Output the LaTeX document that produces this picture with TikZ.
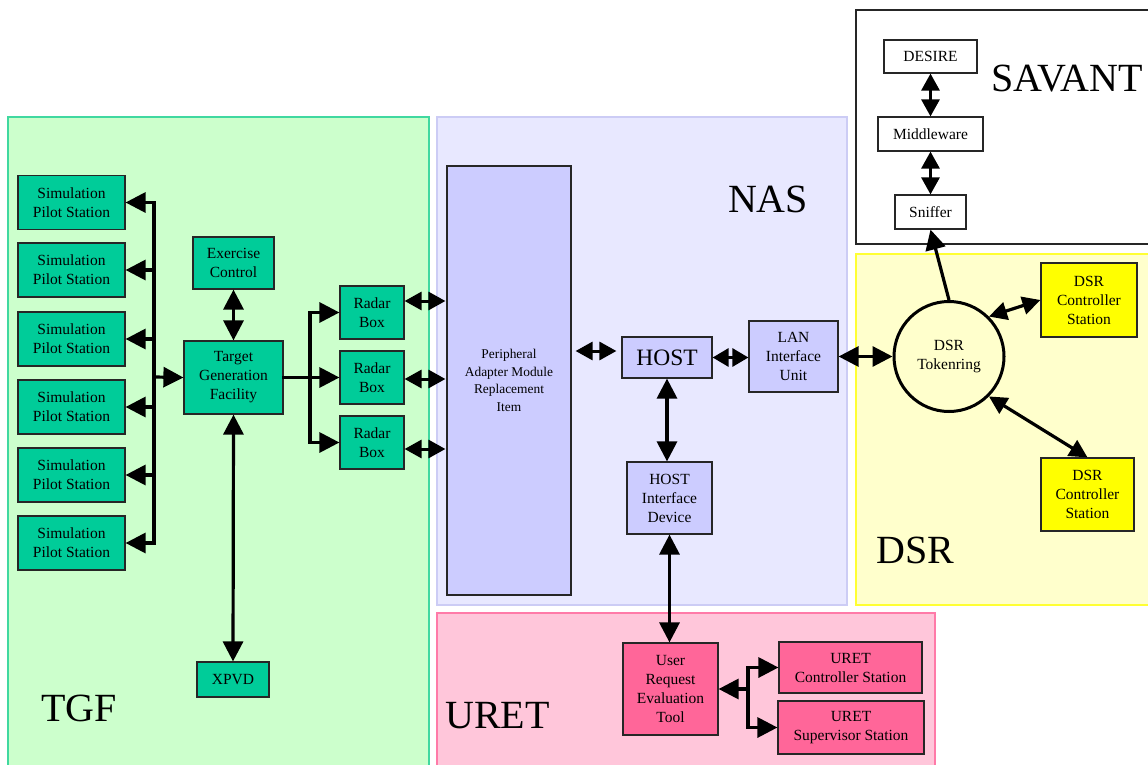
\documentclass[tikz,border=0pt]{standalone}
\usepackage{fontspec}
\setmainfont{Liberation Serif}
\usetikzlibrary{arrows.meta}
\definecolor{tgfbg}{HTML}{CCFFCC}
\definecolor{tgfline}{HTML}{40D8A0}
\definecolor{tgfnode}{HTML}{00CC99}
\definecolor{nasbg}{HTML}{E8E8FF}
\definecolor{nasline}{HTML}{CCCCF5}
\definecolor{nasnode}{HTML}{CCCCFF}
\definecolor{dsrbg}{HTML}{FFFFCC}
\definecolor{dsrline}{HTML}{FFFF33}
\definecolor{dsrnode}{HTML}{FFFF00}
\definecolor{uretbg}{HTML}{FFC6DA}
\definecolor{uretline}{HTML}{FF7AA8}
\definecolor{uretnode}{HTML}{FF6699}
\newcommand\myfs[2]{\fontsize{#1pt}{#2pt}\selectfont}
\tikzset{
  box/.style={draw=black!85, line width=1.2pt, align=center, inner sep=0pt, font=\myfs{15.5}{19}},
  sz/.style 2 args={minimum width=#1pt, minimum height=#2pt},
  tgfn/.style={box, fill=tgfnode},
  nasn/.style={box, fill=nasnode},
  dsrn/.style={box, fill=dsrnode},
  uretn/.style={box, fill=uretnode},
  savn/.style={box, fill=white},
  biglbl/.style={font=\myfs{40}{40}, anchor=base, inner sep=0pt},
  arr/.style={line width=3.2pt, -{Triangle[length=20pt,width=20pt]}},
  dbl/.style={line width=3.2pt, {Triangle[length=20pt,width=20pt]}-{Triangle[length=20pt,width=20pt]}},
  dblsm/.style={line width=3.2pt, {Triangle[length=18pt,width=18pt]}-{Triangle[length=18pt,width=18pt]}},
  dblxs/.style={line width=3pt, {Triangle[length=17pt,width=18pt]}-{Triangle[length=17pt,width=18pt]}},
  bus/.style={line width=3.2pt, line cap=rect},
}
\begin{document}
\begin{tikzpicture}[x=1pt,y=-1pt]
\useasboundingbox (0,0) rectangle (1148,765);
\fill[white] (0,0) rectangle (1148,765);
% regions
\filldraw[fill=tgfbg, draw=tgfline, line width=2pt] (8,117) rectangle (429,780);
\filldraw[fill=nasbg, draw=nasline, line width=1.5pt] (437,117) rectangle (847,605);
\filldraw[fill=uretbg, draw=uretline, line width=1.5pt] (437,613) rectangle (935,780);
\filldraw[fill=dsrbg, draw=dsrline, line width=2pt] (856,254) rectangle (1165,605);
\filldraw[fill=white, draw=black!85, line width=1.2pt] (856,10) rectangle (1165,244);
% region labels
\node[biglbl] (ltgf) at (79,721) {TGF};
\node[biglbl] (lnas) at (768,212) {NAS};
\node[biglbl] (ldsr) at (915.5,563) {DSR};
\node[biglbl] (luret) at (497.5,728) {URET};
\node[biglbl] (lsav) at (1067,92) {SAVANT};
% TGF nodes
\node[tgfn, sz={107}{54}] (sp1) at (71.5,202.5) {Simulation\\Pilot Station};
\node[tgfn, sz={107}{54}] (sp2) at (71.5,270) {Simulation\\Pilot Station};
\node[tgfn, sz={107}{54}] (sp3) at (71.5,339) {Simulation\\Pilot Station};
\node[tgfn, sz={107}{54}] (sp4) at (71.5,407) {Simulation\\Pilot Station};
\node[tgfn, sz={107}{54}] (sp5) at (71.5,475) {Simulation\\Pilot Station};
\node[tgfn, sz={107}{54}] (sp6) at (71.5,543) {Simulation\\Pilot Station};
\node[tgfn, sz={81}{52}] (exc) at (233.5,263) {Exercise\\Control};
\node[tgfn, sz={99}{73}] (tgf) at (233.5,377.5) {Target\\Generation\\Facility};
\node[tgfn, sz={72}{35}] (xpvd) at (233,679.5) {XPVD};
\node[tgfn, sz={64}{53}] (rb1) at (372,312.5) {Radar\\Box};
\node[tgfn, sz={64}{53}] (rb2) at (372,377.5) {Radar\\Box};
\node[tgfn, sz={64}{53}] (rb3) at (372,442.5) {Radar\\Box};
% NAS nodes
\node[nasn, sz={124}{429}, font=\myfs{13.4}{17.5}] (pamri) at (509,380.5) {Peripheral\\Adapter Module\\Replacement\\Item};
\node[nasn, sz={90}{41}, font=\myfs{23.5}{26}] (host) at (667,357.5) {HOST};
\node[nasn, sz={89}{71}] (lan) at (793.5,356.5) {LAN\\Interface\\Unit};
\node[nasn, sz={85}{72}] (hid) at (669.5,498) {HOST\\Interface\\Device};
% DSR nodes
\node[draw=black, line width=3pt, circle, minimum size=110pt, inner sep=0pt, align=center, font=\myfs{15.5}{19}] (ring) at (949,356.5) {DSR\\Tokenring};
\node[dsrn, sz={96}{74}] (dsr1) at (1089,300) {DSR\\Controller\\Station};
\node[dsrn, sz={93}{73}] (dsr2) at (1087.5,494.5) {DSR\\Controller\\Station};
% SAVANT nodes
\node[savn, sz={93}{33}] (desire) at (930.5,56.5) {DESIRE};
\node[savn, sz={105}{34}] (mid) at (930.5,134) {Middleware};
\node[savn, sz={71}{34}] (snif) at (930.5,212) {Sniffer};
% URET nodes
\node[uretn, sz={95}{92}] (tool) at (670.5,689) {User\\Request\\Evaluation\\Tool};
\node[uretn, sz={143}{51}] (uc) at (850.5,667.5) {URET\\Controller Station};
\node[uretn, sz={146}{53}] (us) at (851,727.5) {URET\\Supervisor Station};
% TGF connectors
\coordinate (bp) at (154,377);
\draw[bus] (sp1.east -| bp) -- (sp6.east -| bp);
\foreach \n in {sp1,sp2,sp3,sp4,sp5,sp6}{\draw[arr] (\n.east -| bp) -- (\n.east);}
\draw[arr] (bp) -- (tgf.west);
\draw[dbl] (exc.south) -- (tgf.north);
\draw[dbl] (tgf.south) -- (xpvd.north);
\coordinate (br) at (310,377.5);
\draw[bus] (tgf.east) -- (br);
\draw[bus] (rb1.west -| br) -- (rb3.west -| br);
\foreach \n in {rb1,rb2,rb3}{\draw[arr] (\n.west -| br) -- (\n.west);}
\coordinate (a1) at ([yshift=11.5pt]rb1.east);
\coordinate (a2) at ([yshift=-1.5pt]rb2.east);
\coordinate (a3) at ([yshift=-6.5pt]rb3.east);
\draw[dblxs, shorten >=1pt] (a1) -- (a1 -| pamri.west);
\draw[dblxs, shorten >=1pt] (a2) -- (a2 -| pamri.west);
\draw[dblxs, shorten >=1pt] (a3) -- (a3 -| pamri.west);
% NAS connectors
\coordinate (a4) at ([yshift=6.5pt]host.west);
\draw[dblxs, shorten <=4pt, shorten >=5pt] (a4 -| pamri.east) -- (a4);
\draw[line width=3pt, {Triangle[length=16pt,width=18pt]}-{Triangle[length=16pt,width=18pt]}] (host.east) -- (host.east -| lan.west);
\draw[dbl] (host.south) -- (host.south |- hid.north);
\draw[dbl] (hid.south) -- (hid.south |- tool.north);
\draw[dbl] (lan.east) -- (ring.west);
% DSR connectors
\draw[dblsm] (ring.45) -- (dsr1.west);
\draw[dblsm] (ring.-45) -- (dsr2.north);
\draw[arr] (ring.north) -- (snif.south);
% SAVANT connectors
\draw[dblxs] (desire.south) -- (mid.north);
\draw[dblxs] (mid.south) -- (snif.north);
% URET connectors
\coordinate (bu) at (748,688);
\draw[arr] (tool.east -| bu) -- (tool.east);
\draw[bus] (uc.west -| bu) -- (us.west -| bu);
\draw[arr] (uc.west -| bu) -- (uc.west);
\draw[arr] (us.west -| bu) -- (us.west);
\end{tikzpicture}
\end{document}
